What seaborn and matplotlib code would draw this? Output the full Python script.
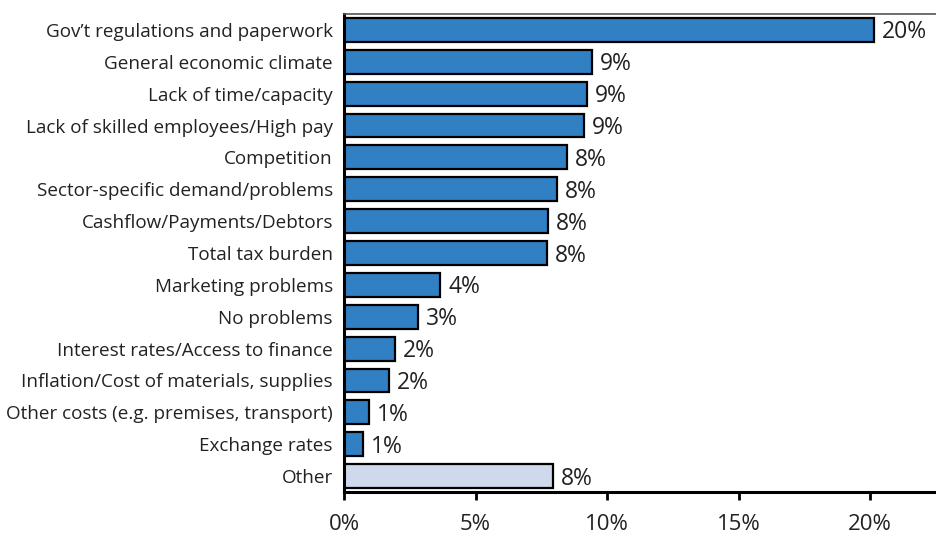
import matplotlib
matplotlib.use("Agg")
import matplotlib.pyplot as plt
import seaborn as sns
import pandas as pd

categories = [
    "Gov\u2019t regulations and paperwork",
    "General economic climate",
    "Lack of time/capacity",
    "Lack of skilled employees/High pay",
    "Competition",
    "Sector-specific demand/problems",
    "Cashflow/Payments/Debtors",
    "Total tax burden",
    "Marketing problems",
    "No problems",
    "Interest rates/Access to finance",
    "Inflation/Cost of materials, supplies",
    "Other costs (e.g. premises, transport)",
    "Exchange rates",
    "Other",
]
shares = [20.13, 9.43, 9.24, 9.13, 8.48, 8.09, 7.77, 7.72, 3.66, 2.80, 1.95, 1.70, 0.95, 0.73, 7.96]
x_ticks = [0, 5, 10, 15, 20]
x_tick_labels = ["0%", "5%", "10%", "15%", "20%"]

BLUE = "#3180C3"
LIGHT = "#CFD9EC"
TEXT = "#222222"

sns.set_theme(style="white")
plt.rcParams["font.family"] = ["Open Sans", "DejaVu Sans"]

df = pd.DataFrame({"category": categories, "share": shares})
palette = {c: (LIGHT if c == "Other" else BLUE) for c in categories}

fig = plt.figure(figsize=(9.36, 5.40), dpi=100)
ax = fig.add_axes([344 / 936, 48 / 540, 1 - 344 / 936, 478 / 540])

sns.barplot(
    data=df, x="share", y="category", hue="category", palette=palette,
    orient="h", width=0.75, edgecolor="black", linewidth=1.6,
    saturation=1, legend=False, ax=ax,
)

for i, v in enumerate(shares):
    ax.text(v + 0.3, i + 0.08, f"{v:.0f}%", va="center", ha="left",
            fontsize=16.5, color=TEXT)

ax.set_xlim(0, 22.5)
ax.set_ylim(len(categories) - 0.5, -0.5)
ax.set_xticks(x_ticks)
ax.set_xticklabels(x_tick_labels)
ax.set_xlabel("")
ax.set_ylabel("")

ax.tick_params(axis="x", bottom=True, length=6, width=2, pad=10,
               labelsize=16, colors="black", labelcolor=TEXT)
ax.tick_params(axis="y", left=False, length=0, pad=8, labelsize=13.6,
               labelcolor=TEXT)

for side in ["left", "bottom"]:
    ax.spines[side].set_color("black")
    ax.spines[side].set_linewidth(2.2)
ax.spines["top"].set_color("#555555")
ax.spines["top"].set_linewidth(1.2)
ax.spines["right"].set_visible(False)

fig.savefig("out.png", dpi=100)
